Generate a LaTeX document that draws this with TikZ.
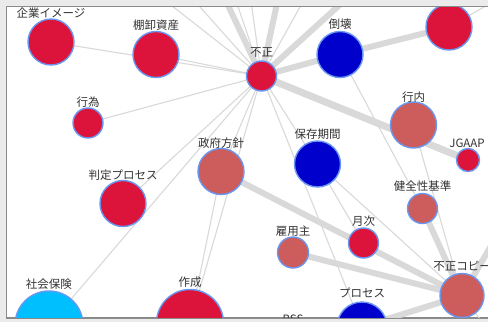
\documentclass[tikz,border=0pt]{standalone}
\usepackage{fontspec}
\newfontfamily\jpfont{Noto Sans CJK JP}
\definecolor{crim}{HTML}{DC143C}
\definecolor{mblue}{HTML}{0000CD}
\definecolor{ired}{HTML}{CD5C5C}
\definecolor{dsky}{HTML}{00BFFF}
\definecolor{cbl}{HTML}{6A97F0}
\definecolor{edgec}{HTML}{D9D9D9}
\definecolor{bgc}{HTML}{EBEBEB}
\definecolor{framec}{HTML}{8A8A8A}
\definecolor{labc}{HTML}{333333}
\begin{document}
\begin{tikzpicture}[x=1pt,y=-1pt,
  bub/.style={circle,draw=cbl,line width=1.4pt,inner sep=0pt},
  lab/.style={font=\jpfont\fontsize{11.5}{12}\selectfont,text=labc,inner sep=0pt},
  weak/.style={draw=edgec,line width=1.1pt},
  strong/.style={draw=edgec,line width=6pt},
]
\useasboundingbox (0,0) rectangle (488,322);
\fill[bgc] (0,0) rectangle (488,322);
\fill[white] (6.5,6.5) rectangle (492,318);
\draw[framec,line width=1.2pt] (492,6.5) -- (6.5,6.5) -- (6.5,318) -- (492,318);
\begin{scope}
\clip (7.1,7.1) rectangle (488,317.4);
% positions
\coordinate (kigyo) at (51,42);
\coordinate (tana) at (156,54.5);
\coordinate (koui) at (88,123);
\coordinate (hantei) at (123,203.5);
\coordinate (shakai) at (49,325);
\coordinate (sakusei) at (190,323);
\coordinate (seifu) at (221,171.5);
\coordinate (fusei) at (261.5,76);
\coordinate (toukai) at (340,54.5);
\coordinate (topred) at (449,27);
\coordinate (kounai) at (413.5,125);
\coordinate (hozon) at (317.5,164);
\coordinate (jgaap) at (468,160);
\coordinate (kenzen) at (422.5,208.5);
\coordinate (getsuji) at (363.5,243);
\coordinate (koyou) at (293,252.5);
\coordinate (fcopy) at (462,295.5);
\coordinate (process) at (362,327);
\coordinate (bss) at (293,350);
% off-panel ends
\coordinate (o1) at (139,-20);
\coordinate (o1b) at (176,-20);
\coordinate (o2) at (216,-20);
\coordinate (o3) at (229,-20);
\coordinate (o3b) at (248,-20);
\coordinate (o4) at (282,-20);
\coordinate (o5) at (315,-20);
\coordinate (o6) at (367,-20);
\coordinate (o7) at (505,-5);
\coordinate (o8) at (505,222);
\coordinate (o9) at (500,345);
% thin connectors
\draw[weak] (kigyo) -- (fusei);
\draw[weak] (tana) -- (fusei);
\draw[weak] (koui) -- (fusei);
\draw[weak] (hantei) -- (fusei);
\draw[weak] (shakai) -- (fusei);
\draw[weak] (seifu) -- (fusei);
\draw[weak] (sakusei) -- (fusei);
\draw[weak] (fusei) -- (process);
\draw[weak] (fusei) -- (hozon);
\draw[weak] (seifu) -- (sakusei);
\draw[weak] (toukai) -- (kenzen);
\draw[weak] (kounai) -- (fcopy);
\draw[weak] (hozon) -- (fcopy);
\draw[weak] (hozon) -- (getsuji);
\draw[weak] (fusei) -- (topred);
\draw[weak] (topred) -- (o7);
\draw[weak] (fusei) -- (o1);
\draw[weak] (fusei) -- (o1b);
\draw[weak] (fusei) -- (o3);
\draw[weak] (fusei) -- (o3b);
\draw[weak] (fusei) -- (o5);
\draw[weak] (fcopy) -- (o9);
% thick connectors
\draw[strong] (fusei) -- (o2);
\draw[strong] (fusei) -- (o4);
\draw[strong] (fusei) -- (o6);
\draw[strong] (fusei) -- (toukai);
\draw[strong] (toukai) -- (topred);
\draw[strong,line width=7pt] (fusei) -- (jgaap);
\draw[strong] (seifu) -- (fcopy);
\draw[strong] (koyou) -- (fcopy);
\draw[strong] (process) -- (fcopy);
\draw[strong] (kenzen) -- (fcopy);
\draw[strong] (fcopy) -- (o8);
% circles
\node[bub,fill=crim,minimum size=46pt] (kigyoN) at (kigyo) {};
\node[bub,fill=crim,minimum size=46pt] (tanaN) at (tana) {};
\node[bub,fill=crim,minimum size=30pt] (kouiN) at (koui) {};
\node[bub,fill=crim,minimum size=46pt] (hanteiN) at (hantei) {};
\node[bub,fill=dsky,minimum size=68pt] (shakaiN) at (shakai) {};
\node[bub,fill=crim,minimum size=67pt] (sakuseiN) at (sakusei) {};
\node[bub,fill=ired,minimum size=46pt] (seifuN) at (seifu) {};
\node[bub,fill=crim,minimum size=30pt] (fuseiN) at (fusei) {};
\node[bub,fill=mblue,minimum size=46pt] (toukaiN) at (toukai) {};
\node[bub,fill=crim,minimum size=46pt] (topredN) at (topred) {};
\node[bub,fill=ired,minimum size=46pt] (kounaiN) at (kounai) {};
\node[bub,fill=mblue,minimum size=46pt] (hozonN) at (hozon) {};
\node[bub,fill=crim,minimum size=23pt] (jgaapN) at (jgaap) {};
\node[bub,fill=ired,minimum size=30pt] (kenzenN) at (kenzen) {};
\node[bub,fill=crim,minimum size=30pt] (getsujiN) at (getsuji) {};
\node[bub,fill=ired,minimum size=31pt] (koyouN) at (koyou) {};
\node[bub,fill=ired,minimum size=44pt] (fcopyN) at (fcopy) {};
\node[bub,fill=mblue,minimum size=50pt] (processN) at (process) {};
\node[bub,fill=mblue,minimum size=30pt] (bssN) at (bss) {};
% labels
\node[lab] (kigyoL) at (51,13) {企業イメージ};
\node[lab] (tanaL) at (156,25) {棚卸資産};
\node[lab] (kouiL) at (88,102) {行為};
\node[lab] (hanteiL) at (123,175) {判定プロセス};
\node[lab] (shakaiL) at (49,284) {社会保険};
\node[lab] (sakuseiL) at (190,282) {作成};
\node[lab] (seifuL) at (221,143) {政府方針};
\node[lab] (fuseiL) at (261.5,53) {不正};
\node[lab] (toukaiL) at (340,24) {倒壊};
\node[lab] (kounaiL) at (413.5,97) {行内};
\node[lab] (hozonL) at (317.5,134) {保存期間};
\node[lab] (jgaapL) at (467,143) {JGAAP};
\node[lab] (kenzenL) at (422.5,186) {健全性基準};
\node[lab] (getsujiL) at (363.5,221) {月次};
\node[lab] (koyouL) at (293,231) {雇用主};
\node[lab] (fcopyL) at (462,266) {不正コピー};
\node[lab] (processL) at (362,293) {プロセス};
\node[lab] (bssL) at (293,319) {BSS};
\end{scope}
\end{tikzpicture}
\end{document}
